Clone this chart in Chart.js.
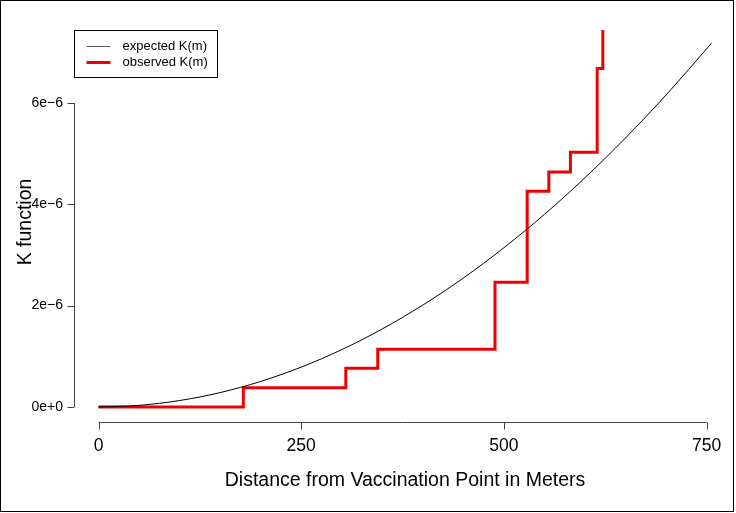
<!DOCTYPE html>
<html>
<head>
<meta charset="utf-8">
<script src="https://cdn.jsdelivr.net/npm/chart.js@4"></script>
<style>
html,body{margin:0;padding:0;background:#fff;}
#wrap{position:relative;width:736px;height:513px;}
</style>
</head>
<body>
<div id="wrap"><canvas id="c" width="736" height="513"></canvas></div>
<script>
// ---- data ----
const xTicks = [0, 250, 500, 750];
const yTicks = [0, 2e-6, 4e-6, 6e-6];
const yTickLabels = ["0e+0", "2e\u22126", "4e\u22126", "6e\u22126"];

// expected K(m)
const expectedM = [0, 50, 100, 150, 200, 250, 300, 350, 400, 450, 500, 550, 600, 650, 700, 756];
const expectedK = [0, 0.031e-6, 0.126e-6, 0.283e-6, 0.503e-6, 0.786e-6, 1.131e-6, 1.540e-6,
                   2.011e-6, 2.545e-6, 3.143e-6, 3.802e-6, 4.525e-6, 5.311e-6, 6.159e-6, 7.18e-6];

// observed K(m): step function (distance where it jumps, new level)
const observedM = [0, 178.6, 305, 344.4, 489, 528.7, 555.4, 582, 615, 622];
const observedK = [0, 0.38e-6, 0.764e-6, 1.139e-6, 2.46e-6, 4.26e-6, 4.64e-6, 5.03e-6, 6.68e-6, 7.44e-6];

const seriesNames = ["expected K(m)", "observed K(m)"];
const xTitle = "Distance from Vaccination Point in Meters";
const yTitle = "K function";

const FONT = "'Liberation Sans', Arial, Helvetica, sans-serif";

const rAxes = {
  id: 'rAxes',
  afterDraw(chart) {
    const ctx = chart.ctx;
    const xs = chart.scales.x, ys = chart.scales.y;
    const area = chart.chartArea;
    ctx.save();
    ctx.strokeStyle = '#444';
    ctx.lineWidth = 1;
    // x axis
    const yAx = Math.round(area.bottom) + 0.5;
    ctx.beginPath();
    ctx.moveTo(xs.getPixelForValue(xTicks[0]), yAx);
    ctx.lineTo(xs.getPixelForValue(xTicks[xTicks.length - 1]), yAx);
    xTicks.forEach(v => {
      const px = Math.round(xs.getPixelForValue(v)) + 0.5;
      ctx.moveTo(px, yAx); ctx.lineTo(px, yAx + 7);
    });
    ctx.stroke();
    ctx.fillStyle = '#000';
    ctx.font = "17.5px " + FONT;
    ctx.textAlign = 'center';
    ctx.textBaseline = 'middle';
    xTicks.forEach(v => ctx.fillText(String(v), xs.getPixelForValue(v), 446));
    ctx.font = "19.5px " + FONT;
    ctx.fillText(xTitle, (area.left + area.right) / 2, 481);

    // y axis
    const xAx = Math.round(area.left) + 0.5;
    ctx.beginPath();
    ctx.moveTo(xAx, ys.getPixelForValue(yTicks[0]));
    ctx.lineTo(xAx, ys.getPixelForValue(yTicks[yTicks.length - 1]));
    yTicks.forEach(v => {
      const py = Math.round(ys.getPixelForValue(v)) + 0.5;
      ctx.moveTo(xAx, py); ctx.lineTo(xAx - 7, py);
    });
    ctx.stroke();
    ctx.font = "14px " + FONT;
    ctx.textAlign = 'right';
    yTicks.forEach((v, i) => ctx.fillText(yTickLabels[i], 63, ys.getPixelForValue(v)));
    ctx.save();
    ctx.translate(26, 222);
    ctx.rotate(-Math.PI / 2);
    ctx.textAlign = 'center';
    ctx.font = "19.5px " + FONT;
    ctx.fillText(yTitle, 0, 0);
    ctx.restore();

    // legend
    const lx = Math.round(area.left) + 0.5, ly = 30.5, lw = 143, lh = 47;
    ctx.fillStyle = '#fff';
    ctx.fillRect(lx, ly, lw, lh);
    ctx.strokeStyle = '#000';
    ctx.lineWidth = 1;
    ctx.strokeRect(lx, ly, lw, lh);
    const ds = chart.data.datasets;
    const rows = [46.5, 62.5];
    ds.forEach((d, i) => {
      ctx.strokeStyle = i === 0 ? '#555' : d.borderColor;
      ctx.lineWidth = d.borderWidth;
      ctx.beginPath();
      ctx.moveTo(lx + 12, Math.floor(rows[i]) + (d.borderWidth % 2 ? 0.5 : 0)); ctx.lineTo(lx + 36, Math.floor(rows[i]) + (d.borderWidth % 2 ? 0.5 : 0));
      ctx.stroke();
      ctx.fillStyle = '#000';
      ctx.font = "13px " + FONT;
      ctx.textAlign = 'left';
      ctx.fillText(d.label, lx + 48, rows[i]);
    });

    // outer frame
    ctx.strokeStyle = '#000';
    ctx.lineWidth = 1;
    ctx.strokeRect(0.5, 0.5, 733, 511);
    ctx.restore();
  }
};

const yMinData = 0, yMaxData = 7.44e-6;
const xMinData = 0, xMaxData = 756;
const yPad = 0.04 * (yMaxData - yMinData);
const xPad = 0.04 * (xMaxData - xMinData);

new Chart(document.getElementById('c'), {
  type: 'line',
  data: {
    datasets: [
      {
        label: seriesNames[0],
        data: expectedM.map((m, i) => ({x: m, y: expectedK[i]})),
        borderColor: '#000',
        borderWidth: 1,
        pointRadius: 0,
        cubicInterpolationMode: 'monotone',
        fill: false
      },
      {
        label: seriesNames[1],
        data: observedM.map((m, i) => ({x: m, y: observedK[i]})),
        borderColor: '#ee0000',
        borderWidth: 3,
        pointRadius: 0,
        stepped: 'before',
        fill: false
      }
    ]
  },
  options: {
    responsive: false,
    animation: false,
    events: [],
    layout: {padding: {top: 15, right: 0, left: 0, bottom: 0}},
    plugins: {legend: {display: false}, tooltip: {enabled: false}},
    scales: {
      x: {
        type: 'linear',
        min: xMinData - xPad,
        max: xMaxData + xPad,
        grid: {display: false},
        border: {display: false},
        ticks: {display: false},
        afterFit(s) { s.height = 91; }
      },
      y: {
        type: 'linear',
        min: yMinData - yPad,
        max: yMaxData + yPad,
        grid: {display: false},
        border: {display: false},
        ticks: {display: false},
        afterFit(s) { s.width = 74; }
      }
    }
  },
  plugins: [rAxes]
});
</script>
</body>
</html>
